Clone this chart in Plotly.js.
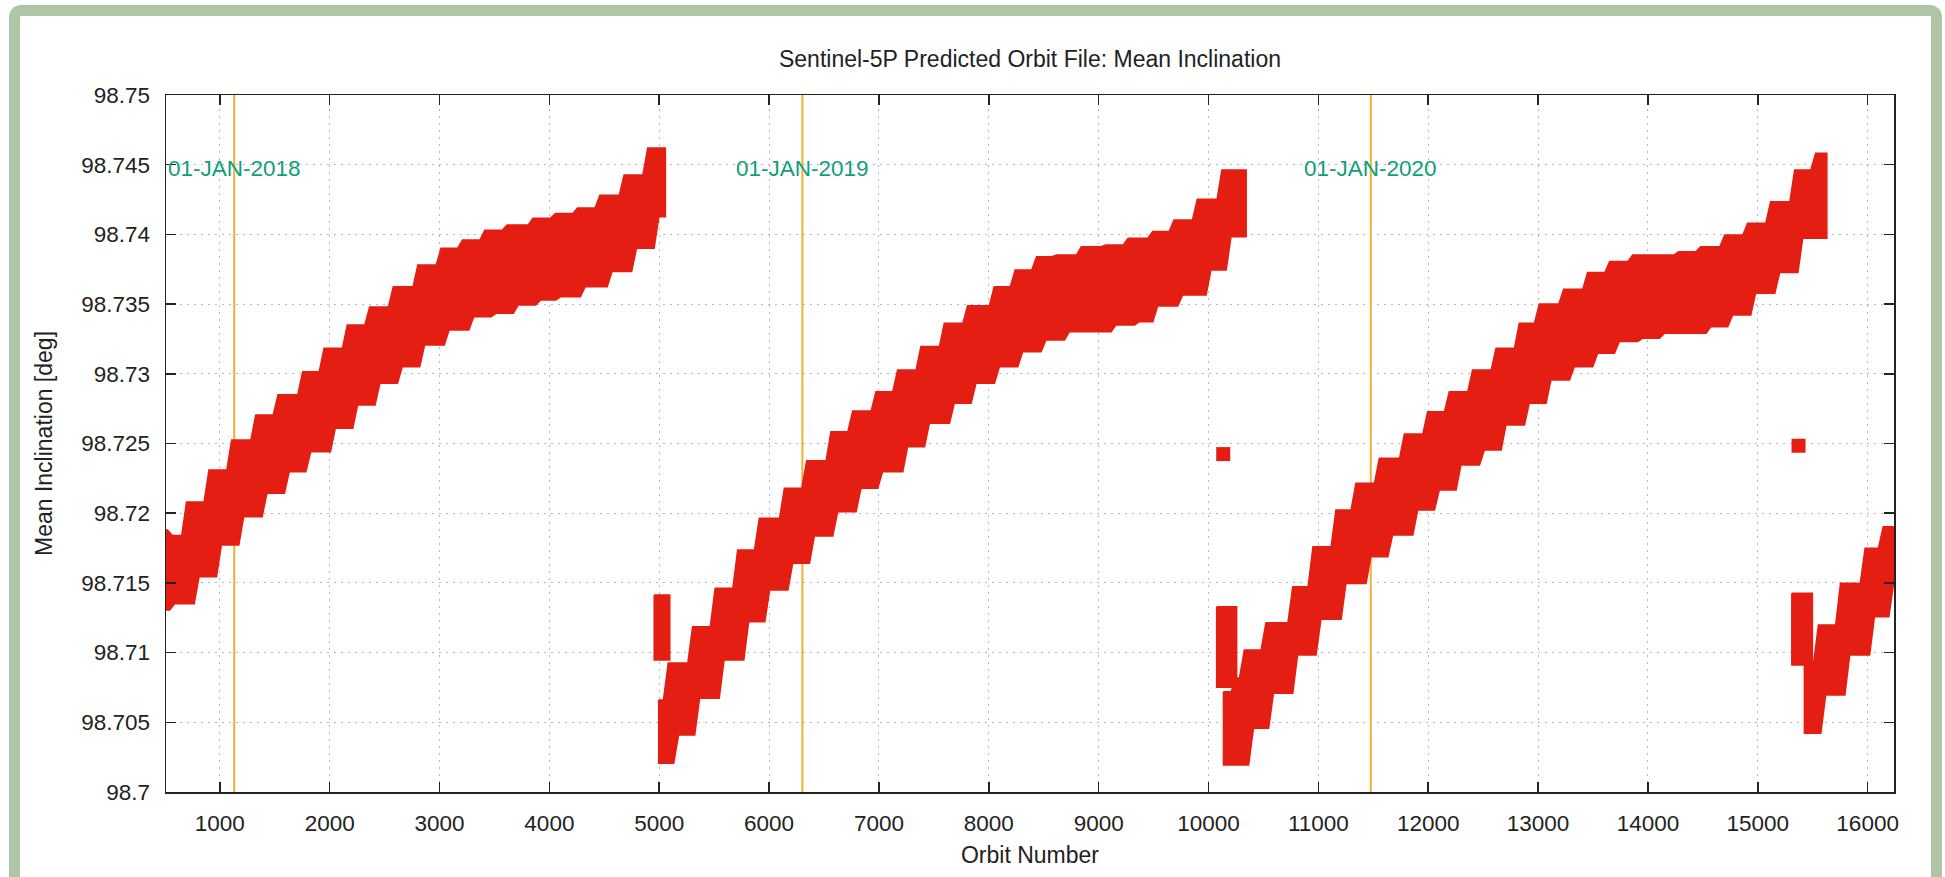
<!DOCTYPE html>
<html>
<head>
<meta charset="utf-8">
<script src="https://cdn.plot.ly/plotly-3.0.1.min.js"></script>
<style>
html,body{margin:0;padding:0;background:#ffffff;width:1945px;height:877px;overflow:hidden}
#plot{position:absolute;left:0;top:0;width:1945px;height:877px}
#frame{position:absolute;left:9px;top:5px;width:1933px;height:890px;border:11px solid #afc5a8;border-radius:12px;box-sizing:border-box;pointer-events:none}
</style>
</head>
<body>
<div id="plot"></div>
<div id="frame"></div>
<script>
// ---------- data ----------
// Band envelopes (step levels): orbit where each level starts, and the level value [deg]
const seg1UpperOrbit = [456, 545, 675, 879, 1086, 1305, 1508, 1732, 1927, 2138, 2342, 2557, 2781, 2992, 3187, 3390, 3593, 3829, 4032, 4235, 4438, 4658, 4873];
const seg1UpperValue = [98.7188, 98.7184, 98.7208, 98.7231, 98.72525, 98.72705, 98.7285, 98.73015, 98.73183, 98.7335, 98.7348, 98.73625, 98.7378, 98.739, 98.7396, 98.7403, 98.74068, 98.74116, 98.7415, 98.7419, 98.7428, 98.74426, 98.7462];
const seg1LowerOrbit = [456, 566, 789, 992, 1195, 1407, 1610, 1805, 2029, 2232, 2435, 2639, 2842, 3065, 3289, 3492, 3694, 3898, 4081, 4304, 4548, 4771, 4975];
const seg1LowerValue = [98.71306, 98.7135, 98.71545, 98.71772, 98.71975, 98.72143, 98.72298, 98.72441, 98.72609, 98.72776, 98.72932, 98.73051, 98.73207, 98.73314, 98.7341, 98.73434, 98.73494, 98.7353, 98.73553, 98.73625, 98.73733, 98.73901, 98.74127];
const seg1EndOrbit = 5056;

const seg2UpperOrbit = [4995, 5060, 5282, 5487, 5692, 5889, 6117, 6320, 6541, 6739, 6951, 7148, 7360, 7573, 7785, 8027, 8218, 8413, 8596, 8820, 9043, 9246, 9470, 9664, 9876, 10100];
const seg2UpperValue = [98.7066, 98.70925, 98.71186, 98.71461, 98.71736, 98.71963, 98.72179, 98.72377, 98.72585, 98.72733, 98.72872, 98.73027, 98.73195, 98.73362, 98.73489, 98.73625, 98.73745, 98.7384, 98.73852, 98.73912, 98.73924, 98.73972, 98.7402, 98.74104, 98.74252, 98.74462];
const seg2LowerOrbit = [4995, 5154, 5345, 5568, 5792, 5983, 6193, 6390, 6602, 6814, 7011, 7239, 7437, 7664, 7861, 8074, 8286, 8498, 8711, 9135, 9348, 9515, 9742, 10000, 10183];
const seg2LowerValue = [98.70206, 98.70409, 98.70672, 98.70947, 98.71222, 98.71449, 98.71641, 98.71837, 98.72011, 98.72179, 98.72298, 98.72477, 98.72645, 98.72789, 98.72932, 98.73051, 98.73159, 98.73243, 98.73302, 98.7335, 98.73374, 98.73487, 98.73566, 98.73745, 98.73984];
const seg2EndOrbit = 10343;

const seg3UpperOrbit = [10136, 10228, 10304, 10501, 10745, 10929, 11138, 11320, 11533, 11761, 11973, 12170, 12382, 12595, 12807, 12989, 13211, 13429, 13630, 13839, 14258, 14458, 14677, 14886, 15095, 15314, 15505];
const seg3UpperValue = [98.7072, 98.70818, 98.71019, 98.71215, 98.71473, 98.7176, 98.72023, 98.72214, 98.72394, 98.72568, 98.72728, 98.72872, 98.73027, 98.73183, 98.73362, 98.73501, 98.73606, 98.73726, 98.73805, 98.73852, 98.73876, 98.73912, 98.73996, 98.7408, 98.74234, 98.74462, 98.74582];
const seg3LowerOrbit = [10136, 10387, 10569, 10789, 11001, 11229, 11456, 11654, 11882, 12079, 12276, 12489, 12686, 12898, 13095, 13308, 13520, 13717, 13930, 14127, 14551, 14749, 14958, 15177, 15387];
const seg3LowerValue = [98.70194, 98.70457, 98.70708, 98.70983, 98.71239, 98.71495, 98.71688, 98.71844, 98.72023, 98.72167, 98.72346, 98.72453, 98.72633, 98.72789, 98.72956, 98.73051, 98.73147, 98.73231, 98.73255, 98.7329, 98.73338, 98.73422, 98.73578, 98.73726, 98.73972];
const seg3EndOrbit = 15629;

const seg4UpperOrbit = [15424, 15530, 15731, 15955, 16120];
const seg4UpperValue = [98.70925, 98.71198, 98.71497, 98.71748, 98.71903];
const seg4LowerOrbit = [15424, 15596, 15815, 16040, 16215];
const seg4LowerValue = [98.70421, 98.70696, 98.70983, 98.71258, 98.715];
const seg4EndOrbit = 16260;

// Short separate clusters at the start of each new cycle
const clusterOrbitStart = [4954, 10074, 15310];
const clusterOrbitEnd   = [5096, 10256, 15497];
const clusterValueLow   = [98.70947, 98.70751, 98.70911];
const clusterValueHigh  = [98.71413, 98.71329, 98.71426];

// Isolated points
const isolatedOrbit = [10134, 15371];
const isolatedValue = [98.72424, 98.72484];

// Year markers
const yearOrbit  = [1131, 6303, 11477];
const yearLabels = ['01-JAN-2018', '01-JAN-2019', '01-JAN-2020'];
const yearLabelValue = 98.745;

// Axis ticks
const xTickValues = [1000, 2000, 3000, 4000, 5000, 6000, 7000, 8000, 9000, 10000, 11000, 12000, 13000, 14000, 15000, 16000];
const xTickLabels = ['1000', '2000', '3000', '4000', '5000', '6000', '7000', '8000', '9000', '10000', '11000', '12000', '13000', '14000', '15000', '16000'];
const yTickValues = [98.7, 98.705, 98.71, 98.715, 98.72, 98.725, 98.73, 98.735, 98.74, 98.745, 98.75];
const yTickLabels = ['98.7', '98.705', '98.71', '98.715', '98.72', '98.725', '98.73', '98.735', '98.74', '98.745', '98.75'];

// ---------- build ----------
const RED = '#e41e12';
const FONT = '"Liberation Sans", Arial, Helvetica, sans-serif';
const RISE = 22; // half-width (in orbits) of the slanted step transitions, a drawing style

function stepBand(uo, uv, lo, lv, end) {
  const xs = [], ys = [];
  const n = uo.length, m = lo.length;
  for (let i = 0; i < n; i++) {
    const a = (i === 0) ? uo[i] : uo[i] + RISE;
    const b = (i + 1 < n) ? uo[i + 1] - RISE : end;
    xs.push(a, b); ys.push(uv[i], uv[i]);
  }
  for (let i = m - 1; i >= 0; i--) {
    const a = (i === 0) ? lo[i] : lo[i] + RISE;
    const b = (i + 1 < m) ? lo[i + 1] - RISE : end;
    xs.push(b, a); ys.push(lv[i], lv[i]);
  }
  xs.push(xs[0]); ys.push(ys[0]);
  return {
    type: 'scatter', mode: 'lines', x: xs, y: ys,
    fill: 'toself', fillcolor: RED,
    line: {color: RED, width: 1.5}, hoverinfo: 'skip', showlegend: false
  };
}

const traces = [
  stepBand(seg1UpperOrbit, seg1UpperValue, seg1LowerOrbit, seg1LowerValue, seg1EndOrbit),
  stepBand(seg2UpperOrbit, seg2UpperValue, seg2LowerOrbit, seg2LowerValue, seg2EndOrbit),
  stepBand(seg3UpperOrbit, seg3UpperValue, seg3LowerOrbit, seg3LowerValue, seg3EndOrbit),
  stepBand(seg4UpperOrbit, seg4UpperValue, seg4LowerOrbit, seg4LowerValue, seg4EndOrbit)
];

for (let i = 0; i < clusterOrbitStart.length; i++) {
  const a = clusterOrbitStart[i], b = clusterOrbitEnd[i];
  const lo = clusterValueLow[i], hi = clusterValueHigh[i];
  traces.push({
    type: 'scatter', mode: 'lines',
    x: [a, b, b, a, a], y: [hi, hi, lo, lo, hi],
    fill: 'toself', fillcolor: RED, line: {color: RED, width: 1.5},
    hoverinfo: 'skip', showlegend: false
  });
}

traces.push({
  type: 'scatter', mode: 'markers', x: isolatedOrbit, y: isolatedValue,
  marker: {symbol: 'square', size: 14, color: RED, line: {width: 0}},
  hoverinfo: 'skip', showlegend: false
});

const shapes = yearOrbit.map(o => ({
  type: 'line', xref: 'x', yref: 'paper', x0: o, x1: o, y0: 0, y1: 1,
  line: {color: '#f0b030', width: 2}, layer: 'below'
}));

const annotations = yearOrbit.map((o, i) => ({
  x: o, y: yearLabelValue, xref: 'x', yref: 'y',
  text: yearLabels[i], showarrow: false, xanchor: 'center', yanchor: 'middle',
  yshift: -4, font: {family: FONT, size: 22.5, color: '#0fa077'}
}));

const axisCommon = {
  ticks: 'inside', ticklen: 10, tickwidth: 1.5, tickcolor: '#222',
  showline: true, linecolor: '#222', linewidth: 1.5, mirror: 'ticks',
  showgrid: true, gridcolor: '#b8b8b8', gridwidth: 1, griddash: '2px,5px',
  zeroline: false, automargin: false,
  tickfont: {family: FONT, size: 22.5, color: '#222'}
};

const layout = {
  width: 1945, height: 877,
  margin: {l: 166, r: 51, t: 95, b: 85, pad: 0},
  paper_bgcolor: '#ffffff', plot_bgcolor: '#ffffff',
  showlegend: false,
  font: {family: FONT, size: 22.5, color: '#222'},
  title: {
    text: 'Sentinel-5P Predicted Orbit File: Mean Inclination',
    x: 0.5, xref: 'paper', xanchor: 'center',
    y: 1 - 59 / 877, yref: 'container', yanchor: 'middle',
    font: {family: FONT, size: 23, color: '#222'}
  },
  xaxis: Object.assign({}, axisCommon, {
    range: [510, 16240], tickmode: 'array', tickvals: xTickValues, ticktext: xTickLabels,
    ticklabelstandoff: 10,
    title: {text: 'Orbit Number', standoff: 12, font: {family: FONT, size: 23, color: '#222'}}
  }),
  yaxis: Object.assign({}, axisCommon, {
    range: [98.7, 98.75], tickmode: 'array', tickvals: yTickValues, ticktext: yTickLabels,
    ticklabelstandoff: 10,
    title: {text: 'Mean Inclination [deg]', standoff: 22, font: {family: FONT, size: 23, color: '#222'}}
  }),
  shapes: shapes,
  annotations: annotations
};

Plotly.newPlot('plot', traces, layout, {staticPlot: true, displayModeBar: false});
</script>
</body>
</html>
